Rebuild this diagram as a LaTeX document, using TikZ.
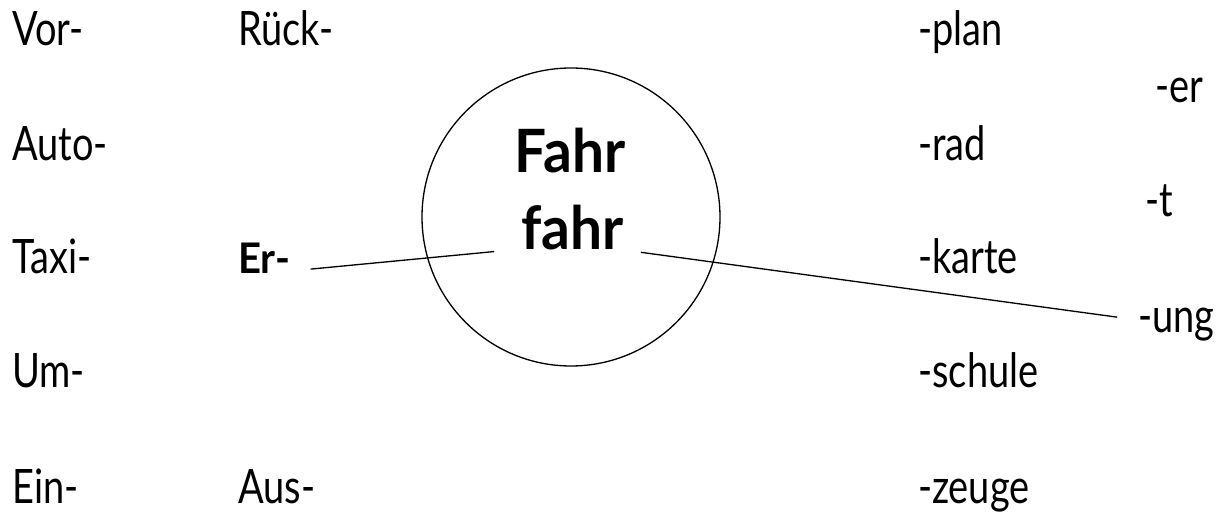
\documentclass[tikz,border=0pt]{standalone}
\usepackage{fontspec}
\setmainfont{Lato}[FakeStretch=0.8]
\newfontfamily\stemfont{Lato}[FakeStretch=0.95]
\usepackage{tikz}

\begin{document}
\begin{tikzpicture}
\tikzstyle{part} = [inner sep=0pt, anchor=base west, font=\fontsize{27}{32}\selectfont]
\tikzstyle{stem} = [inner sep=0pt, anchor=base, font=\stemfont\fontsize{34}{40}\selectfont\bfseries]
\tikzstyle{link} = [draw=black, line width=0.75pt]

\useasboundingbox (0,0) rectangle (24.38,-10.34);

\node[link, circle, minimum size=5.96cm] (ring) at (11.42,-4.34) {};
\node[stem] (Fahr) at (11.40,-3.46) {Fahr};
\node[stem] (fahr) at (11.45,-5.00) {fahr};

\node[part] (vor) at (0.24,-0.92) {Vor-};
\node[part] (auto) at (0.24,-3.22) {Auto-};
\node[part] (taxi) at (0.24,-5.48) {Taxi-};
\node[part] (um) at (0.24,-7.76) {Um-};
\node[part] (ein) at (0.24,-10.06) {Ein-};

\node[part] (rueck) at (4.76,-0.92) {Rück-};
\node[part, font=\stemfont\fontsize{24}{28}\selectfont\bfseries] (er) at (4.76,-5.48) {Er-};
\node[part] (aus) at (4.76,-10.06) {Aus-};

\node[part] (plan) at (18.36,-0.92) {-plan};
\node[part] (rad) at (18.36,-3.22) {-rad};
\node[part] (karte) at (18.36,-5.48) {-karte};
\node[part] (schule) at (18.36,-7.76) {-schule};
\node[part] (zeuge) at (18.36,-10.06) {-zeuge};

\node[part] (ersuf) at (23.10,-2.06) {-er};
\node[part] (tsuf) at (22.90,-4.34) {-t};
\node[part] (ung) at (22.76,-6.66) {-ung};

\draw[link, shorten <=0.4cm, shorten >=0.54cm] ([yshift=0.06cm]er.base east) -- ([yshift=0.02cm]fahr.base west);
\draw[link, shorten <=0.34cm, shorten >=0.42cm] (fahr.base east) -- ([yshift=0.26cm]ung.base west);
\end{tikzpicture}
\end{document}
